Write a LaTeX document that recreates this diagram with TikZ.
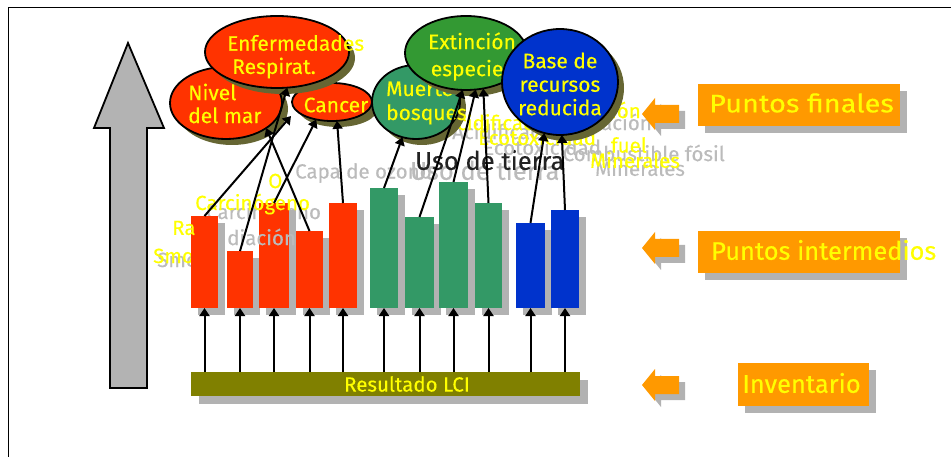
\documentclass[tikz,border=0pt]{standalone}
\usepackage{fontspec}
\setmainfont{Fira Sans}[FakeBold=0.3]
\usetikzlibrary{shadows,arrows.meta,calc,shapes.geometric}

\definecolor{redfill}{HTML}{FF3300}
\definecolor{greenbar}{HTML}{339966}
\definecolor{extgreen}{HTML}{339933}
\definecolor{bluefill}{HTML}{0033CC}
\definecolor{olivebar}{HTML}{808000}
\definecolor{orangebox}{HTML}{FF9900}
\definecolor{yellowtxt}{HTML}{FFFF00}
\definecolor{shadowgray}{HTML}{B2B2B2}
\definecolor{ellshadow}{HTML}{666633}
\definecolor{ghostgray}{HTML}{BBBBBB}
\definecolor{arrowgray}{HTML}{B3B3B3}
\definecolor{darktxt}{HTML}{222222}

\newcommand\pxfont[1]{\fontsize{#1}{#1}\selectfont}

\tikzset{
  arr/.style={draw=black, line width=2pt, -{Triangle[length=8pt,width=10pt]}},
  barbase/.style={anchor=south west, inner sep=0pt, outer sep=0pt,
    drop shadow={shadow xshift=7pt, shadow yshift=-7pt, fill=shadowgray, opacity=1}},
  redbar/.style={barbase, fill=redfill},
  greenbarst/.style={barbase, fill=greenbar},
  bluebar/.style={barbase, fill=bluefill},
  lcibar/.style={fill=olivebar, inner sep=0pt, outer sep=0pt,
    drop shadow={shadow xshift=8pt, shadow yshift=-8pt, fill=shadowgray, opacity=1}},
  ell/.style={ellipse, draw=black, line width=1.8pt, inner sep=0pt, outer sep=0pt,
    drop shadow={shadow xshift=6pt, shadow yshift=-6pt, fill=ellshadow, opacity=1}},
  obox/.style={fill=orangebox, inner sep=0pt, outer sep=0pt,
    drop shadow={shadow xshift=7pt, shadow yshift=-7pt, fill=shadowgray, opacity=1}},
  txt/.style={inner sep=0pt, text=yellowtxt, font=\pxfont{21}},
  lbl/.style={inner sep=0pt, anchor=west, text=yellowtxt, font=\pxfont{20.5}},
  ghost/.style={lbl, text=ghostgray},
}

\begin{document}
\begin{tikzpicture}[x=1pt,y=-1pt]
\useasboundingbox (0,0) rectangle (951,457);

% frame
\draw[line width=1pt] (8,457) -- (8,8) -- (951,8);

% large upward arrow
\draw[fill=arrowgray, line width=1.8pt, line join=miter]
  (128,43) -- (164,128) -- (147,128) -- (147,388) -- (110,388) -- (110,128) -- (94,128) -- cycle;

% inventory bar
\node[lcibar, minimum width=389pt, minimum height=24pt] (lci) at (385.5,384) {};
\node[txt, font=\pxfont{20.5}] (lcitext) at (407,384) {Resultado LCI};

% labels lying behind the bars
\node[ghost] (smogg) at (157,262) {Smog};
\node[lbl] (smog) at (153,258) {Smog};
\node[ghost] (carcg) at (206,213) {Carcinógeno};

% midpoint bars
\node[redbar, minimum width=27pt, minimum height=92pt]  (b1) at (191,308) {};
\node[redbar, minimum width=26pt, minimum height=57pt]  (b2) at (227,308) {};
\node[redbar, minimum width=30pt, minimum height=105pt] (b3) at (259,308) {};
\node[redbar, minimum width=27pt, minimum height=77pt]  (b4) at (296,308) {};
\node[redbar, minimum width=28pt, minimum height=105pt] (b5) at (329,308) {};
\node[greenbarst, minimum width=28pt, minimum height=120pt] (b6) at (370,308) {};
\node[greenbarst, minimum width=29pt, minimum height=91pt]  (b7) at (405,308) {};
\node[greenbarst, minimum width=29pt, minimum height=126pt] (b8) at (439,308) {};
\node[greenbarst, minimum width=27pt, minimum height=105pt] (b9) at (475,308) {};
\node[bluebar, minimum width=29pt, minimum height=85pt] (b10) at (516,308) {};
\node[bluebar, minimum width=28pt, minimum height=98pt] (b11) at (551,308) {};

% inventory to midpoints
\foreach \b in {1,...,11}
  \draw[arr] (lci.north -| b\b.south) -- (b\b.south);

% labels over the bars
\node[ghost] (radg) at (227,237) {diación};
\node[lbl] (rad) at (172,228) {Ra};
\node[lbl] (carc) at (195,204) {Carcinógeno};
\node[lbl] (ozo) at (268,181) {O};

% middle labels
\node[ghost] (capa) at (295,173) {Capa de ozono};
\node[ghost, font=\pxfont{25.5}] (usog) at (410,170) {Uso de tierra};
\node[lbl, text=darktxt, font=\pxfont{25.5}] (uso) at (415,160) {Uso de tierra};
\node[ghost] (acidg) at (452,131) {Acidificación};
\node[lbl] (acid) at (445,122) {Acidificación};
\node[ghost] (ecog) at (483,147) {Ecotoxicidad};
\node[lbl] (eco) at (478,137) {Ecotoxicidad};
\node[ghost, anchor=east] (eutg) at (652,122) {Eutrofización};
\node[lbl, anchor=east] (eut) at (641,110) {Eutrofización};
\node[ghost, anchor=east] (combg) at (725,153) {Combustible fósil};
\node[lbl, anchor=east] (fuel) at (647,145) {fuel};
\node[ghost] (minerg) at (595,168) {Minerales};
\node[lbl] (miner) at (590,160) {Minerales};

% endpoints
\node[ell, fill=redfill, minimum width=112pt, minimum height=72pt] (nivel) at (226,103) {};
\node[txt, anchor=west, align=left, font=\fontsize{21}{23}\selectfont] (niveltext) at (188,103.5) {Nivel\\del mar};
\node[ell, fill=redfill, minimum width=80pt, minimum height=38pt] (cancer) at (332,102) {};
\node[txt] (cancertext) at (336,105) {Cancer};
\node[ell, fill=redfill, minimum width=144pt, minimum height=72pt] (enf) at (277,52) {};
\node[txt, anchor=west] (enftext) at (227,43) {Enfermedades};
\node[txt] (resptext) at (274,68) {Respirat.};
\node[ell, fill=greenbar, minimum width=88pt, minimum height=74pt] (muerte) at (416,102) {};
\node[txt, anchor=west, align=left, font=\fontsize{21}{24}\selectfont] (muertetext) at (386,103) {Muerte\\bosques};
\node[ell, fill=extgreen, minimum width=122pt, minimum height=74pt] (ext) at (466,53) {};
\node[txt, align=center, font=\fontsize{21}{27}\selectfont] (exttext) at (472,56.5) {Extinción\\especies};
\node[ell, fill=bluefill, minimum width=116pt, minimum height=106pt] (base) at (560,82) {};
\node[txt, align=center, font=\fontsize{21}{23.5}\selectfont] (basetext) at (560,84) {Base de\\recursos\\reducida};

% midpoints to endpoints
\coordinate (t1) at (291,116);
\draw[arr] (b1.north) -- (t1);
\draw[arr] (b2.north) -- (enf.-74);
\draw[arr] (b3.north) -- (cancer.-132);
\draw[arr] (b4.north) -- (nivel.-32);
\draw[arr] (b5.north) -- (cancer.-75);
\draw[arr] (b6.north) -- (muerte.-111);
\draw[arr] (b7.north) -- (ext.-95);
\draw[arr] (b8.north) -- (ext.-75);
\draw[arr] (b9.north) -- (ext.-64);
\draw[arr] (b10.north) -- (base.-107);
\draw[arr] (b11.north) -- (base.-88);

% level pointers
\foreach \yc in {114,248,385} {
  \fill[shadowgray, shift={(6,6)}] (642,\yc) -- (655,\yc-16) -- (655,\yc-9) -- (679,\yc-9)
    -- (679,\yc+9) -- (655,\yc+9) -- (655,\yc+16) -- cycle;
  \fill[orangebox] (642,\yc) -- (655,\yc-16) -- (655,\yc-9) -- (679,\yc-9)
    -- (679,\yc+9) -- (655,\yc+9) -- (655,\yc+16) -- cycle;
}

% level boxes
\node[obox, minimum width=202pt, minimum height=42pt] (pf) at (799,105) {};
\node[txt, font=\pxfont{25.4}\addfontfeatures{FakeStretch=1.14}] (pftext) at (801.5,103) {Puntos finales};
\node[obox, minimum width=202pt, minimum height=42pt] (pi) at (799,252) {};
\node[txt, anchor=west, font=\pxfont{25.4}] (pitext) at (711,250) {Puntos intermedios};
\node[obox, minimum width=131pt, minimum height=43pt] (inv) at (803.5,384.5) {};
\node[txt, font=\pxfont{25.5}] (invtext) at (801.5,383) {Inventario};

\end{tikzpicture}
\end{document}
